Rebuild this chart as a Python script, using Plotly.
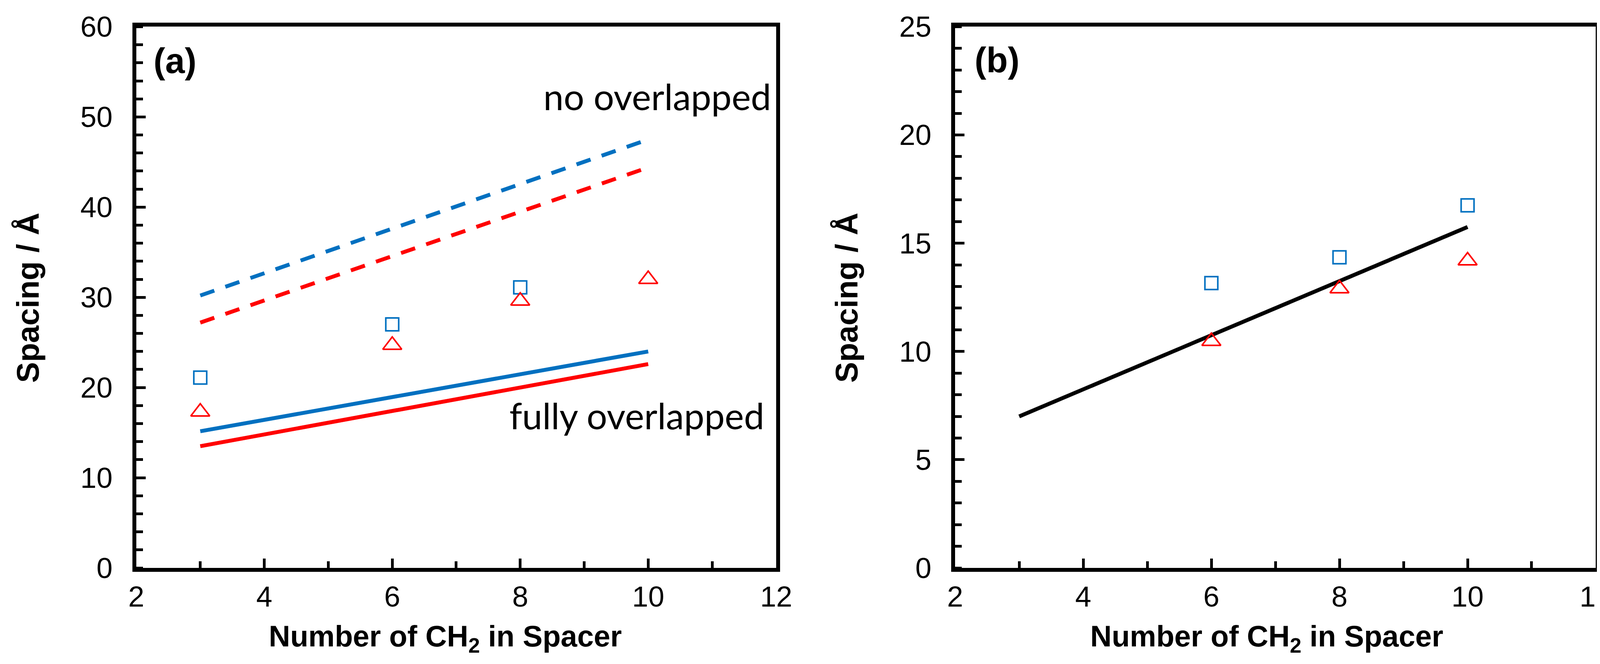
import plotly.graph_objects as go

# panel (a): spacing vs spacer length
a_model_x = [3, 10]
a_no_overlap_blue = [30.2, 47.5]
a_no_overlap_red = [27.2, 44.4]
a_full_overlap_blue = [15.15, 24.0]
a_full_overlap_red = [13.5, 22.6]
a_square_x = [3, 6, 8]
a_square_y = [21.1, 27.0, 31.1]
a_triangle_x = [3, 6, 8, 10]
a_triangle_y = [17.3, 24.7, 29.6, 32.0]

# panel (b)
b_fit_x = [3, 10]
b_fit_y = [7.0, 15.75]
b_square_x = [6, 8, 10]
b_square_y = [13.16, 14.35, 16.75]
b_triangle_x = [6, 8, 10]
b_triangle_y = [10.47, 12.9, 14.19]

BLUE = "#0070C0"
RED = "#FF0000"
ARIAL = "Liberation Sans, Arial"

fig = go.Figure()

# --- panel (a)
fig.add_trace(go.Scatter(x=a_model_x, y=a_no_overlap_blue, mode="lines",
                         line=dict(color=BLUE, width=10, dash="38px,30px"), xaxis="x", yaxis="y"))
fig.add_trace(go.Scatter(x=a_model_x, y=a_no_overlap_red, mode="lines",
                         line=dict(color=RED, width=10, dash="38px,30px"), xaxis="x", yaxis="y"))
fig.add_trace(go.Scatter(x=a_model_x, y=a_full_overlap_blue, mode="lines",
                         line=dict(color=BLUE, width=10), xaxis="x", yaxis="y"))
fig.add_trace(go.Scatter(x=a_model_x, y=a_full_overlap_red, mode="lines",
                         line=dict(color=RED, width=10), xaxis="x", yaxis="y"))
fig.add_trace(go.Scatter(x=a_square_x, y=a_square_y, mode="markers",
                         marker=dict(symbol="square-open", size=33, color=BLUE, line=dict(width=4)),
                         xaxis="x", yaxis="y"))
fig.add_trace(go.Scatter(x=a_triangle_x, y=a_triangle_y, mode="markers",
                         marker=dict(symbol="triangle-up-open", size=42, color=RED, line=dict(width=4)),
                         xaxis="x", yaxis="y"))

# --- panel (b)
fig.add_trace(go.Scatter(x=b_fit_x, y=b_fit_y, mode="lines",
                         line=dict(color="black", width=10), xaxis="x2", yaxis="y2"))
fig.add_trace(go.Scatter(x=b_square_x, y=b_square_y, mode="markers",
                         marker=dict(symbol="square-open", size=33, color=BLUE, line=dict(width=4)),
                         xaxis="x2", yaxis="y2"))
fig.add_trace(go.Scatter(x=b_triangle_x, y=b_triangle_y, mode="markers",
                         marker=dict(symbol="triangle-up-open", size=42, color=RED, line=dict(width=4)),
                         xaxis="x2", yaxis="y2"))

# empty traces so the overlay axes (inside major y ticks) get drawn
fig.add_trace(go.Scatter(x=[], y=[], xaxis="x", yaxis="y3"))
fig.add_trace(go.Scatter(x=[], y=[], xaxis="x2", yaxis="y4"))

axis_style = dict(
    showline=True, linecolor="black", linewidth=10, mirror=True,
    showgrid=False, zeroline=False, automargin=False,
    ticks="inside", ticklen=24, tickwidth=7, tickcolor="black",
    tickfont=dict(family=ARIAL, size=74, color="black"),
)
minor_style = dict(ticks="inside", ticklen=17, tickwidth=7, tickcolor="black")
# y labels sit further from the axis than plotly's default, so the label axis
# uses invisible outside ticks and the visible major ticks come from an overlay
ylabel_ticks = dict(ticks="outside", ticklen=36, tickcolor="rgba(0,0,0,0)")
overlay_ticks = dict(showline=False, showgrid=False, zeroline=False, showticklabels=False,
                     automargin=False, ticks="inside", ticklen=24, tickwidth=7, tickcolor="black")

# the page body keeps its default 8px margin, so the figure is kept 16px smaller than the window
fig.update_layout(
    width=4142, height=1684,
    margin=dict(l=0, r=0, t=0, b=0),
    paper_bgcolor="white", plot_bgcolor="white",
    showlegend=False,
    xaxis=dict(axis_style, domain=[0.0823, 0.4778], range=[2, 12], dtick=2, anchor="y",
               minor=dict(minor_style, dtick=1)),
    yaxis=dict(axis_style, **ylabel_ticks, domain=[0.1413, 0.9641], range=[0, 60], dtick=10,
               anchor="x", minor=dict(minor_style, dtick=2)),
    xaxis2=dict(axis_style, domain=[0.5884, 0.9843], range=[2, 12], dtick=2, anchor="y2",
                minor=dict(minor_style, dtick=1)),
    yaxis2=dict(axis_style, **ylabel_ticks, domain=[0.1413, 0.9641], range=[0, 25], dtick=5,
                anchor="x2", minor=dict(minor_style, dtick=1)),
    yaxis3=dict(overlay_ticks, overlaying="y", anchor="x", range=[0, 60], dtick=10),
    yaxis4=dict(overlay_ticks, overlaying="y2", anchor="x2", range=[0, 25], dtick=5),
)

xtitle = "<b>Number of CH<sub>2</sub> in Spacer</b>"
ytitle = "<b>Spacing / Å</b>"
xtitle_font = dict(family=ARIAL, size=76, color="black")
ytitle_font = dict(family=ARIAL, size=80, color="black")
annotations = [
    dict(text=xtitle, x=0.2733, y=0.0344, xref="paper", yref="paper", showarrow=False,
         font=xtitle_font, xanchor="center", yanchor="middle"),
    dict(text=xtitle, x=0.7810, y=0.0344, xref="paper", yref="paper", showarrow=False,
         font=xtitle_font, xanchor="center", yanchor="middle"),
    dict(text=ytitle, x=0.0155, y=0.5523, xref="paper", yref="paper", showarrow=False,
         font=ytitle_font, textangle=-90, xanchor="center", yanchor="middle"),
    dict(text=ytitle, x=0.5215, y=0.5523, xref="paper", yref="paper", showarrow=False,
         font=ytitle_font, textangle=-90, xanchor="center", yanchor="middle"),
    dict(text="<b>(a)</b>", x=2.26, y=56.2, xref="x", yref="y", showarrow=False,
         font=dict(family=ARIAL, size=90, color="black"), xanchor="left", yanchor="middle"),
    dict(text="<b>(b)</b>", x=2.29, y=23.45, xref="x2", yref="y2", showarrow=False,
         font=dict(family=ARIAL, size=90, color="black"), xanchor="left", yanchor="middle"),
    dict(text="no overlapped", x=11.93, y=52.3, xref="x", yref="y", showarrow=False,
         font=dict(family="Lato", size=93, color="black"), xanchor="right", yanchor="middle"),
    dict(text="fully overlapped", x=7.82, y=16.95, xref="x", yref="y", showarrow=False,
         font=dict(family="Lato", size=93, color="black"), xanchor="left", yanchor="middle"),
]
fig.update_layout(annotations=annotations)

fig.write_html("out.html")
